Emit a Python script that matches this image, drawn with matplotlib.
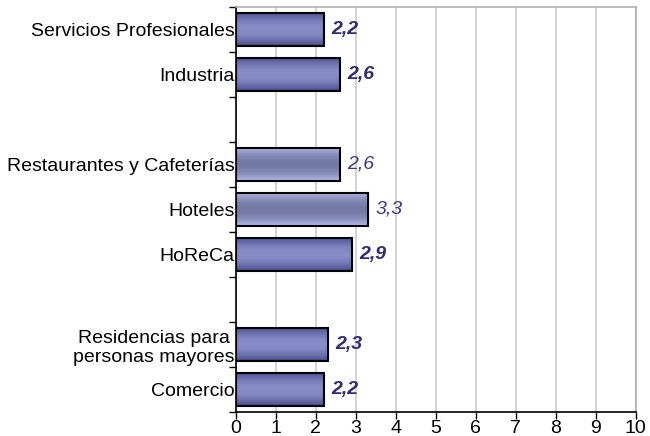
import numpy as np
import matplotlib.pyplot as plt
from matplotlib.patches import Rectangle

plt.rcParams['font.family'] = ['Liberation Sans', 'DejaVu Sans']

# data (top to bottom, blanks are spacer slots)
categories = ["Servicios Profesionales", "Industria", "",
              "Restaurantes y Cafeterías", "Hoteles", "HoReCa", "",
              "Residencias para\npersonas mayores", "Comercio"]
values = [2.2, 2.6, None, 2.6, 3.3, 2.9, None, 2.3, 2.2]
labels = ["2,2", "2,6", "", "2,6", "3,3", "2,9", "", "2,3", "2,2"]
highlight = [False, False, False, True, True, False, False, False, False]

fig = plt.figure(figsize=(6.5, 4.36), dpi=100)
ax = fig.add_axes([0.363, 0.055, 0.615, 0.929])

n = len(categories)
ypos = np.arange(n)[::-1]
barH = 0.75

# gradient across bar height
t = np.linspace(-1, 1, 64)
prof = 1 - t**2
darkEdge = np.array([0x45, 0x4a, 0x8a]) / 255
darkMid = np.array([0x85, 0x8c, 0xc6]) / 255
lightEdge = np.array([0xb4, 0xbc, 0xec]) / 255
lightMid = np.array([0x74, 0x7a, 0xa4]) / 255

for i in range(n):
    v = values[i]
    if v is None:
        continue
    y = ypos[i]
    if highlight[i]:
        c0, c1 = lightEdge, lightMid
    else:
        c0, c1 = darkEdge, darkMid
    grad = c0[None, :] + (c1 - c0)[None, :] * prof[:, None]
    grad = grad[:, None, :]
    ax.imshow(grad, extent=[0, v, y - barH / 2, y + barH / 2],
              aspect='auto', origin='lower', zorder=2, interpolation='bilinear')
    ax.add_patch(Rectangle((0, y - barH / 2), v, barH, fill=False,
                           edgecolor='black', linewidth=1.5, zorder=3))
    if highlight[i]:
        ax.text(v + 0.18, y, labels[i], va='center', ha='left', fontsize=14,
                style='italic', color='#3b3585')
    else:
        ax.text(v + 0.18, y, labels[i], va='center', ha='left', fontsize=14,
                style='italic', fontweight='bold', color='#2e2a78')

ax.set_xlim(0, 10)
ax.set_ylim(-0.5, n - 0.5)
ax.set_xticks(range(0, 11))
ax.xaxis.grid(True, color='#cccccc', linewidth=1.2, zorder=0)
ax.set_axisbelow(True)

ax.set_yticks(ypos)
ax.set_yticklabels(categories, fontsize=14, multialignment='center')
ax.set_yticks(np.arange(-0.5, n, 1.0), minor=True)
ax.tick_params(axis='y', which='major', length=0, pad=1)
ax.tick_params(axis='y', which='minor', length=5, width=1, direction='out')
ax.tick_params(axis='x', labelsize=14, length=5, width=1, pad=1)

ax.spines['left'].set_color('black')
ax.spines['bottom'].set_color('black')
ax.spines['top'].set_color('#b0b0b0')
ax.spines['right'].set_color('#b0b0b0')
for s in ax.spines.values():
    s.set_linewidth(1.2)

fig.savefig("out.png", dpi=100)
